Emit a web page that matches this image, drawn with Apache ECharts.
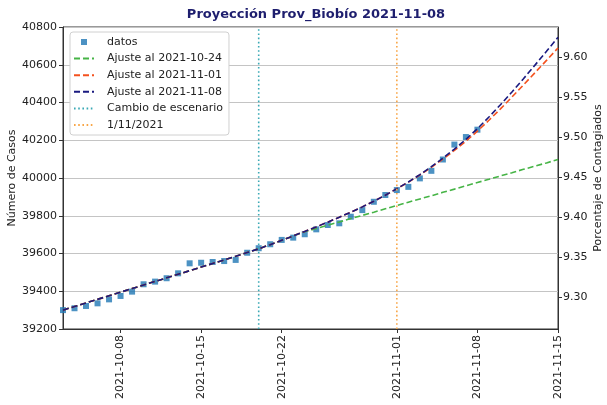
<!DOCTYPE html>
<html>
<head>
<meta charset="utf-8">
<script src="https://cdn.jsdelivr.net/npm/echarts@6/dist/echarts.min.js"></script>
<style>
  html, body { margin: 0; padding: 0; background: #fff; }
  #chart { width: 607px; height: 405px; }
</style>
</head>
<body>
<div id="chart"></div>
<script>
// datos observados
const obsDates = [
  '2021-10-03','2021-10-04','2021-10-05','2021-10-06','2021-10-07','2021-10-08','2021-10-09',
  '2021-10-10','2021-10-11','2021-10-12','2021-10-13','2021-10-14','2021-10-15','2021-10-16',
  '2021-10-17','2021-10-18','2021-10-19','2021-10-20','2021-10-21','2021-10-22','2021-10-23',
  '2021-10-24','2021-10-25','2021-10-26','2021-10-27','2021-10-28','2021-10-29','2021-10-30',
  '2021-10-31','2021-11-01','2021-11-02','2021-11-03','2021-11-04','2021-11-05','2021-11-06',
  '2021-11-07','2021-11-08'
];
const obsValues = [
  39300, 39310, 39322, 39336, 39357, 39375, 39398,
  39437, 39451, 39469, 39495, 39548, 39551, 39555,
  39560, 39566, 39604, 39628, 39649, 39672, 39684,
  39702, 39728, 39751, 39760, 39795, 39830, 39874,
  39910, 39936, 39953, 39998, 40038, 40098, 40177,
  40217, 40256
];

// fechas de los ajustes (hasta 2021-11-15)
const fitDates = obsDates.concat([
  '2021-11-09','2021-11-10','2021-11-11','2021-11-12','2021-11-13','2021-11-14','2021-11-15'
]);
const fit1024 = [
  39300, 39319, 39338, 39357, 39376, 39395, 39414, 39433, 39452, 39471, 39490,
  39509, 39528, 39547, 39566, 39585, 39605, 39625, 39647, 39670, 39693,
  39715, 39732, 39750, 39767, 39785, 39802, 39819, 39837, 39854, 39872, 39889,
  39906, 39924, 39941, 39959, 39976, 39993, 40011, 40028, 40046, 40063, 40080, 40098
];
const fit1101 = [
  39300, 39319, 39338, 39357, 39376, 39395, 39414, 39433, 39452, 39471, 39490,
  39509, 39528, 39547, 39566, 39585, 39605, 39625, 39647, 39670, 39693,
  39717, 39741, 39766, 39792, 39819, 39847, 39877, 39909, 39943, 39978, 40016,
  40057, 40100, 40146, 40195, 40248, 40306, 40366, 40429, 40493, 40558, 40623, 40689
];
const fit1108 = [
  39300, 39319, 39338, 39357, 39376, 39395, 39414, 39433, 39452, 39471, 39490,
  39509, 39528, 39547, 39566, 39585, 39605, 39625, 39647, 39670, 39693,
  39717, 39741, 39766, 39792, 39819, 39847, 39877, 39909, 39943, 39979, 40018,
  40060, 40105, 40153, 40205, 40261, 40323, 40388, 40456, 40526, 40598, 40671, 40745
];

const scenarioDate = '2021-10-20';
const refDate = '2021-11-01';

const xMin = '2021-10-03';
const xMax = '2021-11-15';
const xTicks = ['2021-10-08', '2021-10-15', '2021-10-22', '2021-11-01', '2021-11-08', '2021-11-15'];

const yMin = 39200;
const yMax = 40800;
const yStep = 200;
const poblacion = 423340;
const pctTicks = [9.30, 9.35, 9.40, 9.45, 9.50, 9.55, 9.60];

const FONT = 'DejaVu Sans';
const TXT = '#222';

const toTime = s => {
  const [y, m, d] = s.split('-').map(Number);
  return new Date(y, m - 1, d).getTime();
};
const pad = n => (n < 10 ? '0' : '') + n;
const fmtDate = v => {
  const d = new Date(v);
  return d.getFullYear() + '-' + pad(d.getMonth() + 1) + '-' + pad(d.getDate());
};
const pairs = (xs, ys) => xs.map((x, i) => [toTime(x), ys[i]]);

const chart = echarts.init(document.getElementById('chart'));

const fitSeries = (name, values, color) => ({
  name: name,
  type: 'line',
  data: pairs(fitDates, values),
  symbol: 'none',
  showSymbol: false,
  lineStyle: { color: color, width: 1.6, type: [6, 3] },
  itemStyle: { color: color },
  z: 3
});
const vSeries = (name, date, color) => ({
  name: name,
  type: 'line',
  data: pairs([date, date], [yMin, yMax]),
  symbol: 'none',
  showSymbol: false,
  lineStyle: { color: color, width: 1.6, type: [1.6, 2.6] },
  itemStyle: { color: color },
  z: 4
});
// entradas de leyenda de líneas sin el punto central
const lineItem = name => ({ name: name, itemStyle: { opacity: 0 } });

const option = {
  animation: false,
  title: {
    text: 'Proyección Prov_Biobío 2021-11-08',
    left: 311,
    textAlign: 'center',
    top: 3,
    textStyle: { fontFamily: FONT, fontSize: 13, fontWeight: 'bold', color: '#1e1e6e' }
  },
  legend: {
    orient: 'vertical',
    left: 70,
    top: 32,
    padding: [4, 6, 4, 3],
    itemWidth: 20,
    itemHeight: 6,
    itemGap: 4.6,
    backgroundColor: '#fff',
    borderColor: '#d0d0d0',
    borderWidth: 1,
    borderRadius: 3,
    textStyle: { fontFamily: FONT, fontSize: 11, color: TXT, lineHeight: 12, padding: [0, 0, 0, 8] },
    data: [
      { name: 'datos', icon: 'path://M0,0 h10 v10 h-10 z' },
      lineItem('Ajuste al 2021-10-24'),
      lineItem('Ajuste al 2021-11-01'),
      lineItem('Ajuste al 2021-11-08'),
      lineItem('Cambio de escenario'),
      lineItem('1/11/2021')
    ]
  },
  grid: {
    left: 63, right: 49, top: 27, bottom: 76,
    containLabel: false,
    outerBoundsMode: 'none',
    show: true, borderColor: '#333', borderWidth: 1
  },
  xAxis: {
    type: 'value',
    min: toTime(xMin),
    max: toTime(xMax),
    axisLine: { show: true, lineStyle: { color: '#333' } },
    axisTick: { show: true, length: 4, lineStyle: { color: '#333' }, customValues: xTicks.map(toTime) },
    axisLabel: {
      customValues: xTicks.map(toTime),
      rotate: 90,
      margin: 6,
      fontFamily: FONT, fontSize: 11, color: TXT,
      formatter: v => fmtDate(v)
    },
    splitLine: { show: false }
  },
  yAxis: [
    {
      type: 'value',
      min: yMin,
      max: yMax,
      interval: yStep,
      name: 'Número de Casos',
      nameLocation: 'middle',
      nameRotate: 90,
      nameGap: 45,
      nameMoveOverlap: false,
      nameTextStyle: { fontFamily: FONT, fontSize: 11, color: TXT },
      axisLine: { show: true, lineStyle: { color: '#333' } },
      axisTick: { show: true, length: 4, lineStyle: { color: '#333' } },
      axisLabel: { fontFamily: FONT, fontSize: 11, color: TXT, margin: 6, formatter: v => String(v) },
      splitLine: { show: true, lineStyle: { color: '#c4c4c4', width: 1 } }
    },
    {
      type: 'value',
      position: 'right',
      min: yMin / poblacion * 100,
      max: yMax / poblacion * 100,
      name: 'Porcentaje de Contagiados',
      nameLocation: 'middle',
      nameRotate: 90,
      nameGap: 35,
      nameMoveOverlap: false,
      nameTextStyle: { fontFamily: FONT, fontSize: 11, color: TXT },
      axisLine: { show: true, lineStyle: { color: '#333' } },
      axisTick: { show: true, length: 4, lineStyle: { color: '#333' }, customValues: pctTicks },
      axisLabel: {
        customValues: pctTicks,
        fontFamily: FONT, fontSize: 11, color: TXT, margin: 5,
        formatter: v => v.toFixed(2)
      },
      splitLine: { show: false }
    }
  ],
  series: [
    {
      name: 'datos',
      type: 'scatter',
      data: pairs(obsDates, obsValues),
      symbol: 'rect',
      symbolSize: 6,
      itemStyle: { color: '#1f77b4' },
      z: 2
    },
    fitSeries('Ajuste al 2021-10-24', fit1024, '#46b446'),
    fitSeries('Ajuste al 2021-11-01', fit1101, '#f4511e'),
    fitSeries('Ajuste al 2021-11-08', fit1108, '#1a1a80'),
    vSeries('Cambio de escenario', scenarioDate, '#3aa9b5'),
    vSeries('1/11/2021', refDate, '#f8a647')
  ]
};

chart.setOption(option);
</script>
</body>
</html>
